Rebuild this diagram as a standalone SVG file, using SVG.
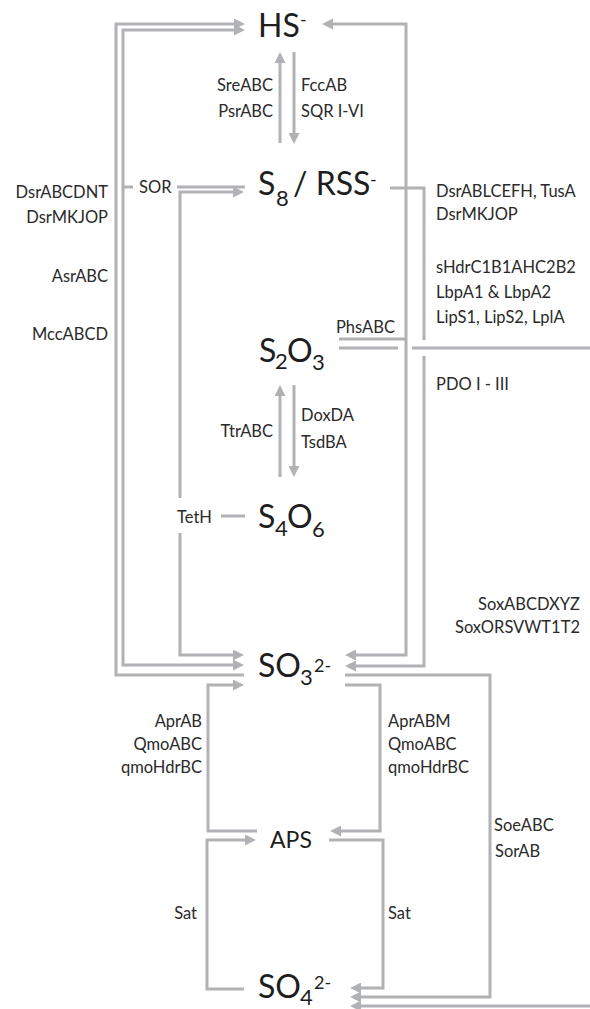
<svg xmlns="http://www.w3.org/2000/svg" width="590" height="1009" viewBox="0 0 590 1009">
<style>
.c{fill:none;stroke:#b1b2b5;stroke-width:3}
.big{font-family:Lato,"Open Sans",sans-serif;font-size:32px;fill:#1e1e1e}
.sub{font-family:Lato,"Open Sans",sans-serif;font-size:22px;fill:#1e1e1e}
.sup{font-family:Lato,"Open Sans",sans-serif;font-size:18px;fill:#1e1e1e}
.aps{font-family:Lato,"Open Sans",sans-serif;font-size:23px;fill:#1e1e1e}
.l{font-family:Lato,"Open Sans",sans-serif;font-size:16.5px;fill:#2a2a2a}
.e{text-anchor:end}
</style>
<defs>
<marker id="a" viewBox="0 0 11 11" markerWidth="11" markerHeight="11" refX="7" refY="5.5" orient="auto-start-reverse" markerUnits="userSpaceOnUse">
<path d="M0,0 L11,5.5 L0,11 z" fill="#b1b2b5"/>
</marker>
</defs>
<rect width="590" height="1009" fill="#fff"/>
<g id="connectors">
<path class="c" d="M244,675 H116 V24 H241" marker-end="url(#a)"/>
<path class="c" d="M240,665 H123 V30 H241" marker-start="url(#a)" marker-end="url(#a)"/>
<path class="c" d="M123,187 H133"/>
<path class="c" d="M177,187 H245"/>
<path class="c" d="M240,192 H180 V498 M180,533 V655 H240" marker-start="url(#a)" marker-end="url(#a)"/>
<path class="c" d="M221,516 H245"/>
<path class="c" d="M280,143 V56" marker-end="url(#a)"/>
<path class="c" d="M294,52 V140" marker-end="url(#a)"/>
<path class="c" d="M280,477 V389" marker-end="url(#a)"/>
<path class="c" d="M294,385 V473" marker-end="url(#a)"/>
<path class="c" d="M326,24 H406 V655 H349" marker-start="url(#a)" marker-end="url(#a)"/>
<path class="c" d="M390,188 H424 V340 M424,356 V666 H349" marker-end="url(#a)"/>
<path class="c" d="M339,339 H406"/>
<path class="c" d="M339,348 H398 M412,348 H593 V1006 H354" marker-end="url(#a)"/>
<path class="c" d="M345,675 H490 V997 H354" marker-end="url(#a)"/>
<path class="c" d="M345,685 H380 V831 H334" marker-end="url(#a)"/>
<path class="c" d="M329,840 H383 V988 H354" marker-end="url(#a)"/>
<path class="c" d="M240,685 H208 V831 H257" marker-start="url(#a)"/>
<path class="c" d="M244,989 H207 V840 H252" marker-end="url(#a)"/>
</g>
<g id="node-HS">
<text class="big" x="258" y="37">HS</text><text class="sup" x="300" y="26">-</text>
</g>
<g id="node-S8">
<text class="big" x="258" y="195">S</text><text class="sub" x="276" y="206">8</text><text class="big" x="293" y="195">/ RSS</text><text class="sup" x="370" y="186">-</text>
</g>
<g id="node-S2O3">
<text class="big" x="259" y="362">S</text><text class="sub" x="275" y="369">2</text><text class="big" x="287" y="362">O</text><text class="sub" x="312" y="370">3</text>
</g>
<g id="node-S4O6">
<text class="big" x="258" y="528">S</text><text class="sub" x="275" y="536">4</text><text class="big" x="287" y="528">O</text><text class="sub" x="312" y="537">6</text>
</g>
<g id="node-SO3">
<text class="big" x="258" y="677">SO</text><text class="sub" x="300" y="685">3</text><text class="sup" x="314" y="672">2-</text>
</g>
<g id="node-APS">
<text class="aps" x="270" y="848">APS</text>
</g>
<g id="node-SO4">
<text class="big" x="258" y="998">SO</text><text class="sub" x="300" y="1005">4</text><text class="sup" x="314" y="989">2-</text>
</g>
<g id="labels">
<text class="l e" x="273" y="91">SreABC</text>
<text class="l e" x="273" y="117">PsrABC</text>
<text class="l" x="301" y="91">FccAB</text>
<text class="l" x="301" y="117">SQR I-VI</text>
<text class="l e" x="108" y="198">DsrABCDNT</text>
<text class="l e" x="108" y="223">DsrMKJOP</text>
<text class="l e" x="108" y="282">AsrABC</text>
<text class="l e" x="108" y="340">MccABCD</text>
<text class="l" x="139" y="193">SOR</text>
<text class="l" x="436" y="197">DsrABLCEFH, TusA</text>
<text class="l" x="436" y="220">DsrMKJOP</text>
<text class="l" x="436" y="273">sHdrC1B1AHC2B2</text>
<text class="l" x="436" y="298">LbpA1 &amp; LbpA2</text>
<text class="l" x="436" y="323">LipS1, LipS2, LplA</text>
<text class="l" x="436" y="390">PDO I - III</text>
<text class="l" x="336" y="333">PhsABC</text>
<text class="l e" x="273" y="437">TtrABC</text>
<text class="l" x="301" y="421">DoxDA</text>
<text class="l" x="301" y="448">TsdBA</text>
<text class="l" x="177" y="523">TetH</text>
<text class="l e" x="580" y="610">SoxABCDXYZ</text>
<text class="l e" x="580" y="633">SoxORSVWT1T2</text>
<text class="l e" x="202" y="727">AprAB</text>
<text class="l e" x="202" y="750">QmoABC</text>
<text class="l e" x="202" y="773">qmoHdrBC</text>
<text class="l" x="388" y="727">AprABM</text>
<text class="l" x="388" y="750">QmoABC</text>
<text class="l" x="388" y="773">qmoHdrBC</text>
<text class="l" x="494" y="831">SoeABC</text>
<text class="l" x="495" y="857">SorAB</text>
<text class="l e" x="197" y="919">Sat</text>
<text class="l" x="388" y="919">Sat</text>
</g>
</svg>
